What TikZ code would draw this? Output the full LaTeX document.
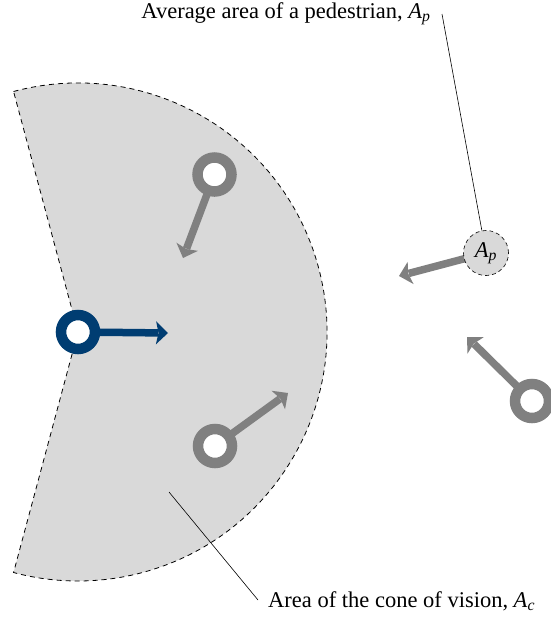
\documentclass[tikz,border=0pt]{standalone}
\usepackage{fontspec}
\setmainfont{Liberation Serif}
\usetikzlibrary{calc}
\definecolor{pblue}{RGB}{0,61,114}
\definecolor{pgray}{RGB}{128,128,128}
\definecolor{conegray}{RGB}{217,217,217}
\newcommand{\sym}[2]{\textit{#1}\textsubscript{\textit{#2}}}
% walking arrow: colour, start, tip
\newcommand{\walkarrow}[3]{%
  \coordinate (wb) at ($(#3)!12pt!(#2)$);
  \coordinate (wi) at ($(#3)!9.5pt!(#2)$);
  \draw[#1,line width=7.5pt] (#2) -- ($(#3)!10pt!(#2)$);
  \fill[#1] (#3) -- ($(wb)!11.5pt!90:(#3)$) -- (wi) -- ($(wb)!11.5pt!-90:(#3)$) -- cycle;}
\begin{document}
\begin{tikzpicture}[x=1pt,y=1pt,
  ring/.style={circle,draw=#1,line width=10.5pt,fill=white,minimum size=34pt,inner sep=0pt,outer sep=0pt},
  conestyle/.style={draw=black,dash pattern=on 5pt off 4pt,line width=0.8pt,fill=conegray},
  lab/.style={font=\fontsize{22.5}{26}\selectfont,inner sep=2pt},
  leader/.style={draw=black,line width=0.6pt}]
\useasboundingbox (0,0) rectangle (550,-621);
\coordinate (C) at (78,-332);
% cone of vision
\path[conestyle] ($(C)+(105:249)$) arc[start angle=105,end angle=-105,radius=249] -- (C) -- cycle;
% leader to cone
\coordinate (l2s) at (169,-492);
\coordinate (l2e) at (258,-600);
\node[lab,anchor=west] (lab2) at (266,-601) {Area of the cone of vision, \sym{A}{c}};
\draw[leader] (l2s) -- (l2e);
% pedestrian centres and arrow tips
\coordinate (c1) at (214.5,-174.5);
\coordinate (c2) at (215,-446);
\coordinate (c3) at (532,-401);
\coordinate (c4) at (486,-253);
\coordinate (t0) at (168,-333);
\coordinate (t1) at (183,-258);
\coordinate (t2) at (288,-393);
\coordinate (t3) at (467,-337);
\coordinate (t4) at (399,-276);
% arrows
\walkarrow{pblue}{C}{t0}
\walkarrow{pgray}{c1}{t1}
\walkarrow{pgray}{c2}{t2}
\walkarrow{pgray}{c3}{t3}
\walkarrow{pgray}{c4}{t4}
% pedestrians
\node[ring=pblue] (p0) at (C) {};
\node[ring=pgray] (p1) at (c1) {};
\node[ring=pgray] (p2) at (c2) {};
\node[ring=pgray] (p3) at (c3) {};
\node[circle,draw=black,dash pattern=on 4pt off 3pt,line width=0.6pt,fill=conegray,minimum size=45pt,inner sep=0pt,font=\fontsize{22.5}{26}\selectfont] (Ap) at (c4) {\sym{A}{p}};
% top label
\node[lab] (lab1) at (286,-14) {Average area of a pedestrian, \sym{A}{p}};
\coordinate (l1s) at (442,-14);
\draw[leader] (l1s) -- (Ap);
\end{tikzpicture}
\end{document}
